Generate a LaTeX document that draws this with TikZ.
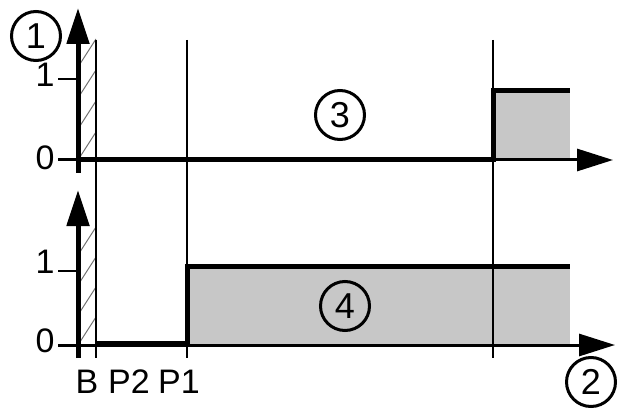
\documentclass[tikz,border=0pt]{standalone}
\usepackage{fontspec}
\setmainfont{Liberation Sans}
\usetikzlibrary{arrows.meta}

\tikzset{
  vaxis/.style={line width=5pt,-{Triangle[length=36pt,width=22pt]}},
  haxis/.style={line width=3pt,-{Triangle[length=36pt,width=22pt]}},
  signal/.style={line width=5pt},
  guide/.style={line width=2pt},
  tick/.style={line width=2.5pt},
  hatch/.style={line width=1pt,black!55},
  shade/.style={fill=black!22},
  lbl/.style={font=\fontsize{34}{40}\selectfont,inner sep=0pt,anchor=base},
  marker/.style={circle,draw,line width=3pt,minimum size=49pt,inner sep=0pt,
    font=\fontsize{36}{42}\selectfont},
}

\begin{document}
\begin{tikzpicture}[x=1pt,y=-1pt]
  \useasboundingbox (0,0) rectangle (623,414);

  \coordinate (Btop) at (78,173);
  \coordinate (Bbot) at (78,358);

  % grey areas
  \fill[shade] (493,91) rectangle (570,160);
  \fill[shade] (187,266) rectangle (570,345);

  % hatched strips
  \begin{scope}
    \clip (78,37) rectangle (96,160);
    \foreach \k in {0,...,5}
      \draw[hatch] (78,160-\k*31) -- ++(18,-28);
  \end{scope}
  \begin{scope}
    \clip (78,225) rectangle (96,345);
    \foreach \k in {0,...,4}
      \draw[hatch] (78,345-\k*30) -- ++(18,-28);
  \end{scope}

  % position lines
  \foreach \x in {96,187,493}
    \draw[guide] (\x,40) -- (\x,358);

  % axes
  \draw[vaxis] (Btop) -- (78,8);
  \draw[vaxis] (Bbot) -- (78,190);
  \draw[haxis] (58,160) -- (613,160);
  \draw[haxis] (58,345) -- (615,345);
  \draw[tick] (58,79) -- (78,79);
  \draw[tick] (58,271) -- (78,271);

  % switching signals
  \draw[signal] (78,160) -- (493,160) -- (493,91) -- (570,91);
  \draw[signal] (96,343) -- (187,343) -- (187,266) -- (570,266);

  \node[lbl] (topone)  at (45,87)  {1};
  \node[lbl] (topzero) at (45,169) {0};
  \node[lbl] (botone)  at (45,273) {1};
  \node[lbl] (botzero) at (45,352) {0};
  \node[lbl] (posB)    at (87,393) {B};
  \node[lbl] (posPtwo) at (129,393) {P2};
  \node[lbl] (posPone) at (179,393) {P1};

  \node[marker] (mOne)   at (36,36)   {1};
  \node[marker] (mTwo)   at (591,382) {2};
  \node[marker] (mThree) at (340,115) {3};
  \node[marker] (mFour)  at (345,306) {4};
\end{tikzpicture}
\end{document}
